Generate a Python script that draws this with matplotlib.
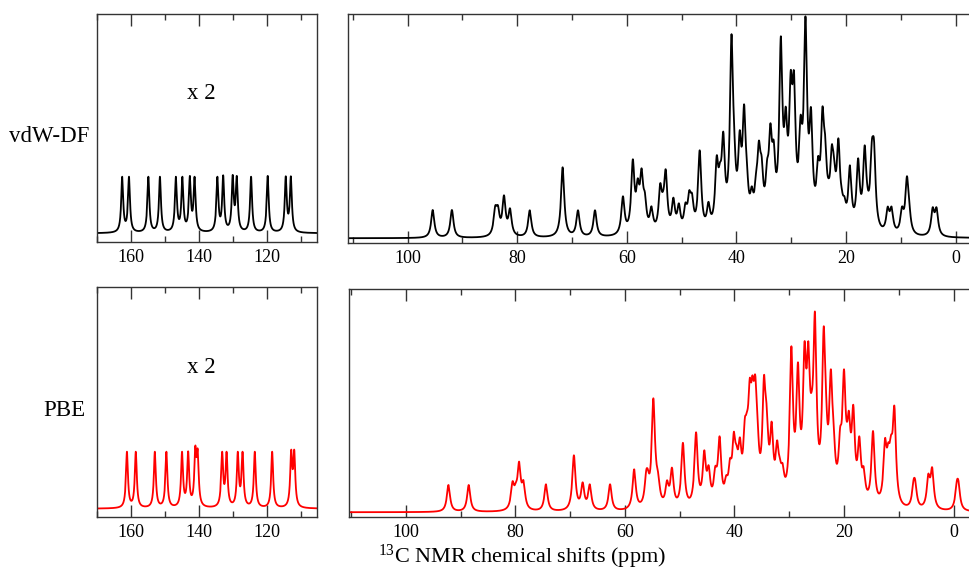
import numpy as np
import matplotlib.pyplot as plt
from matplotlib.ticker import MultipleLocator

plt.rcParams['font.family'] = ['Liberation Serif', 'DejaVu Serif']
plt.rcParams['mathtext.fontset'] = 'custom'
plt.rcParams['mathtext.rm'] = 'Liberation Serif'
plt.rcParams['mathtext.it'] = 'Liberation Serif:italic'

# peak positions (ppm) and apparent peak heights (arb. units)
vdw_arom_ppm = [162.5, 160.5, 154.8, 151.4, 146.7, 144.8, 142.6, 141.2,
                134.5, 132.8, 130.0, 128.8, 124.6, 119.7, 114.4, 112.9]
vdw_arom_h = [28.3, 28.3, 28.3, 28.3, 28.3, 28.3, 28.7, 28.3,
              28.3, 29.0, 29.2, 28.7, 28.3, 28.7, 28.5, 28.5]

pbe_arom_ppm = [161.1, 158.5, 152.9, 149.5, 144.9, 143.1, 141.0, 140.3,
                133.1, 131.8, 128.5, 127.1, 123.5, 118.4, 112.8, 111.9]
pbe_arom_h = [28.5, 28.5, 28.5, 28.5, 28.5, 28.7, 31.5, 30.0,
              28.5, 28.5, 28.5, 28.5, 28.5, 28.5, 29.5, 29.5]

vdw_ali_ppm = [95.4, 91.9, 84.0, 83.5, 82.4, 81.3, 77.7, 71.7, 68.9, 65.8,
               60.7, 58.9, 58.0, 57.3, 56.7, 55.5, 53.9, 53.4, 52.9, 51.5,
               50.5, 49.3, 48.6, 48.1, 46.7, 45.1, 43.6, 43.0, 42.4, 40.9,
               40.4, 39.4, 38.6, 38.1, 37.2, 36.4, 35.9, 35.4, 34.4, 33.8,
               33.2, 32.2, 31.9, 31.0, 30.1, 29.5, 28.3, 27.9, 27.4, 26.4,
               25.1, 24.3, 23.8, 23.2, 22.6, 22.2, 21.4, 20.8, 20.3, 19.3,
               17.8, 16.6, 16.1, 15.3, 14.9, 12.4, 11.7, 9.8, 8.9, 8.5,
               4.2, 3.5]
vdw_ali_h = [28.3, 28.3, 32.6, 33.0, 43.0, 30.0, 28.0, 71.0, 28.0, 28.0,
             42.0, 79.0, 60.0, 70.0, 46.0, 32.0, 55.0, 47.0, 69.0, 40.7,
             35.0, 35.7, 48.0, 45.0, 88.0, 36.5, 82.7, 76.0, 106.7, 204.0,
             110.0, 108.0, 134.0, 77.0, 52.0, 67.0, 97.7, 82.0, 79.0, 115.0,
             98.0, 120.0, 202.0, 131.7, 167.7, 167.0, 123.0, 118.0, 222.0, 131.0,
             82.0, 131.7, 102.0, 60.0, 93.5, 82.0, 100.0, 50.0, 42.0, 73.0,
             80.0, 93.0, 52.0, 97.7, 98.0, 31.7, 31.7, 31.7, 62.0, 39.0,
             31.0, 31.0]

pbe_ali_ppm = [92.2, 88.5, 80.5, 79.9, 79.3, 78.5, 74.4, 69.3, 67.7, 66.4,
               62.7, 58.3, 56.1, 55.8, 54.8, 54.3, 53.9, 52.3, 51.4, 49.4,
               47.0, 45.5, 44.7, 43.5, 43.1, 42.7, 41.5, 40.8, 40.1, 39.6,
               39.0, 38.1, 37.7, 37.2, 36.7, 36.2, 35.8, 34.6, 34.1, 33.2,
               32.2, 31.7, 31.2, 29.6, 28.4, 27.2, 26.5, 25.9, 25.3, 23.7,
               23.3, 22.4, 21.9, 20.7, 20.0, 19.5, 19.1, 18.3, 17.2, 16.4,
               14.7, 12.5, 11.9, 11.4, 10.8, 7.3, 7.0, 4.6, 3.9, -0.6,
               -0.9]
pbe_ali_h = [27.3, 27.3, 31.0, 30.0, 50.7, 32.0, 28.0, 57.0, 30.0, 28.0,
             28.0, 43.0, 42.0, 43.0, 114.0, 54.0, 39.0, 32.0, 44.7, 69.5,
             80.0, 62.0, 47.0, 46.0, 49.0, 76.0, 37.0, 54.0, 80.5, 67.0,
             75.0, 94.0, 100.7, 134.0, 137.0, 137.5, 97.0, 137.0, 106.0, 90.7,
             72.0, 54.0, 49.0, 166.0, 150.0, 170.7, 171.0, 120.7, 200.7, 185.7,
             125.0, 143.0, 90.0, 85.0, 143.0, 91.0, 101.5, 107.5, 76.0, 45.7,
             81.3, 74.0, 70.0, 77.5, 106.5, 32.5, 32.5, 38.5, 45.0, 31.5,
             31.5]

GAMMA = 0.35  # lorentzian half width (ppm)


def lorentz(x, x0):
    return 1.0 / (1.0 + ((x - x0) / GAMMA) ** 2)


def spectrum(x, ppm, heights):
    # find line amplitudes so that the summed curve reaches the given heights
    ppm = np.asarray(ppm)
    h = np.asarray(heights, dtype=float)
    m = lorentz(ppm[:, None], ppm[None, :])
    amp = h.copy()
    for _ in range(3000):
        amp *= h / (m @ amp)
    return (amp[None, :] * lorentz(x[:, None], ppm[None, :])).sum(axis=1)


x = np.linspace(-6, 175, 36000)

fig = plt.figure(figsize=(9.7, 5.72), dpi=100)
W, H = 970.0, 572.0


def add_ax(x0, x1, y0, y1):
    return fig.add_axes([x0 / W, 1 - y1 / H, (x1 - x0) / W, (y1 - y0) / H])


ax1 = add_ax(96.7, 316.7, 14.0, 241.7)    # vdW-DF aromatic
ax2 = add_ax(348.3, 976.0, 14.0, 242.7)   # vdW-DF aliphatic
ax3 = add_ax(96.7, 316.7, 287.3, 517.0)   # PBE aromatic
ax4 = add_ax(349.3, 976.0, 289.3, 517.3)  # PBE aliphatic

ax1.plot(x, 2 * spectrum(x, vdw_arom_ppm, vdw_arom_h), color='black', lw=1.3)
ax2.plot(x, spectrum(x, vdw_ali_ppm, vdw_ali_h), color='black', lw=1.3)
ax3.plot(x, 2 * spectrum(x, pbe_arom_ppm, pbe_arom_h), color='red', lw=1.3)
ax4.plot(x, spectrum(x, pbe_ali_ppm, pbe_ali_h), color='red', lw=1.3)

ax1.set_xlim(170, 105.3)
ax3.set_xlim(170, 105.3)
ax2.set_xlim(110.8, -3.7)
ax4.set_xlim(110.3, -4.1)
ax1.set_ylim(-8.4, 219.3)
ax2.set_ylim(-4.4, 224.3)
ax3.set_ylim(-8.3, 221.4)
ax4.set_ylim(-5.0, 223.0)

for ax in ax1, ax2, ax3, ax4:
    ax.xaxis.set_major_locator(MultipleLocator(20))
    ax.xaxis.set_minor_locator(MultipleLocator(10))
    ax.set_yticks([])
    ax.tick_params(axis='x', which='both', direction='in', top=True,
                   labelsize=13, pad=5, width=1.0, color='#333333')
    ax.tick_params(axis='x', which='major', length=8.5)
    ax.tick_params(axis='x', which='minor', length=4.5)
    for s in ax.spines.values():
        s.set_linewidth(1.0)
        s.set_color('#333333')

ax1.text(0.474, 0.653, 'x 2', transform=ax1.transAxes, ha='center', va='center', fontsize=16.5)
ax3.text(0.474, 0.653, 'x 2', transform=ax3.transAxes, ha='center', va='center', fontsize=16.5)

fig.text(49.5 / W, 1 - 137 / H, 'vdW-DF', ha='center', va='center', fontsize=16.5)
fig.text(64 / W, 1 - 410 / H, 'PBE', ha='center', va='center', fontsize=16.5)
fig.text(522 / W, 1 - 557 / H, r'$^{13}$C NMR chemical shifts (ppm)',
         ha='center', va='center', fontsize=16)

fig.savefig('out.png', dpi=100)
